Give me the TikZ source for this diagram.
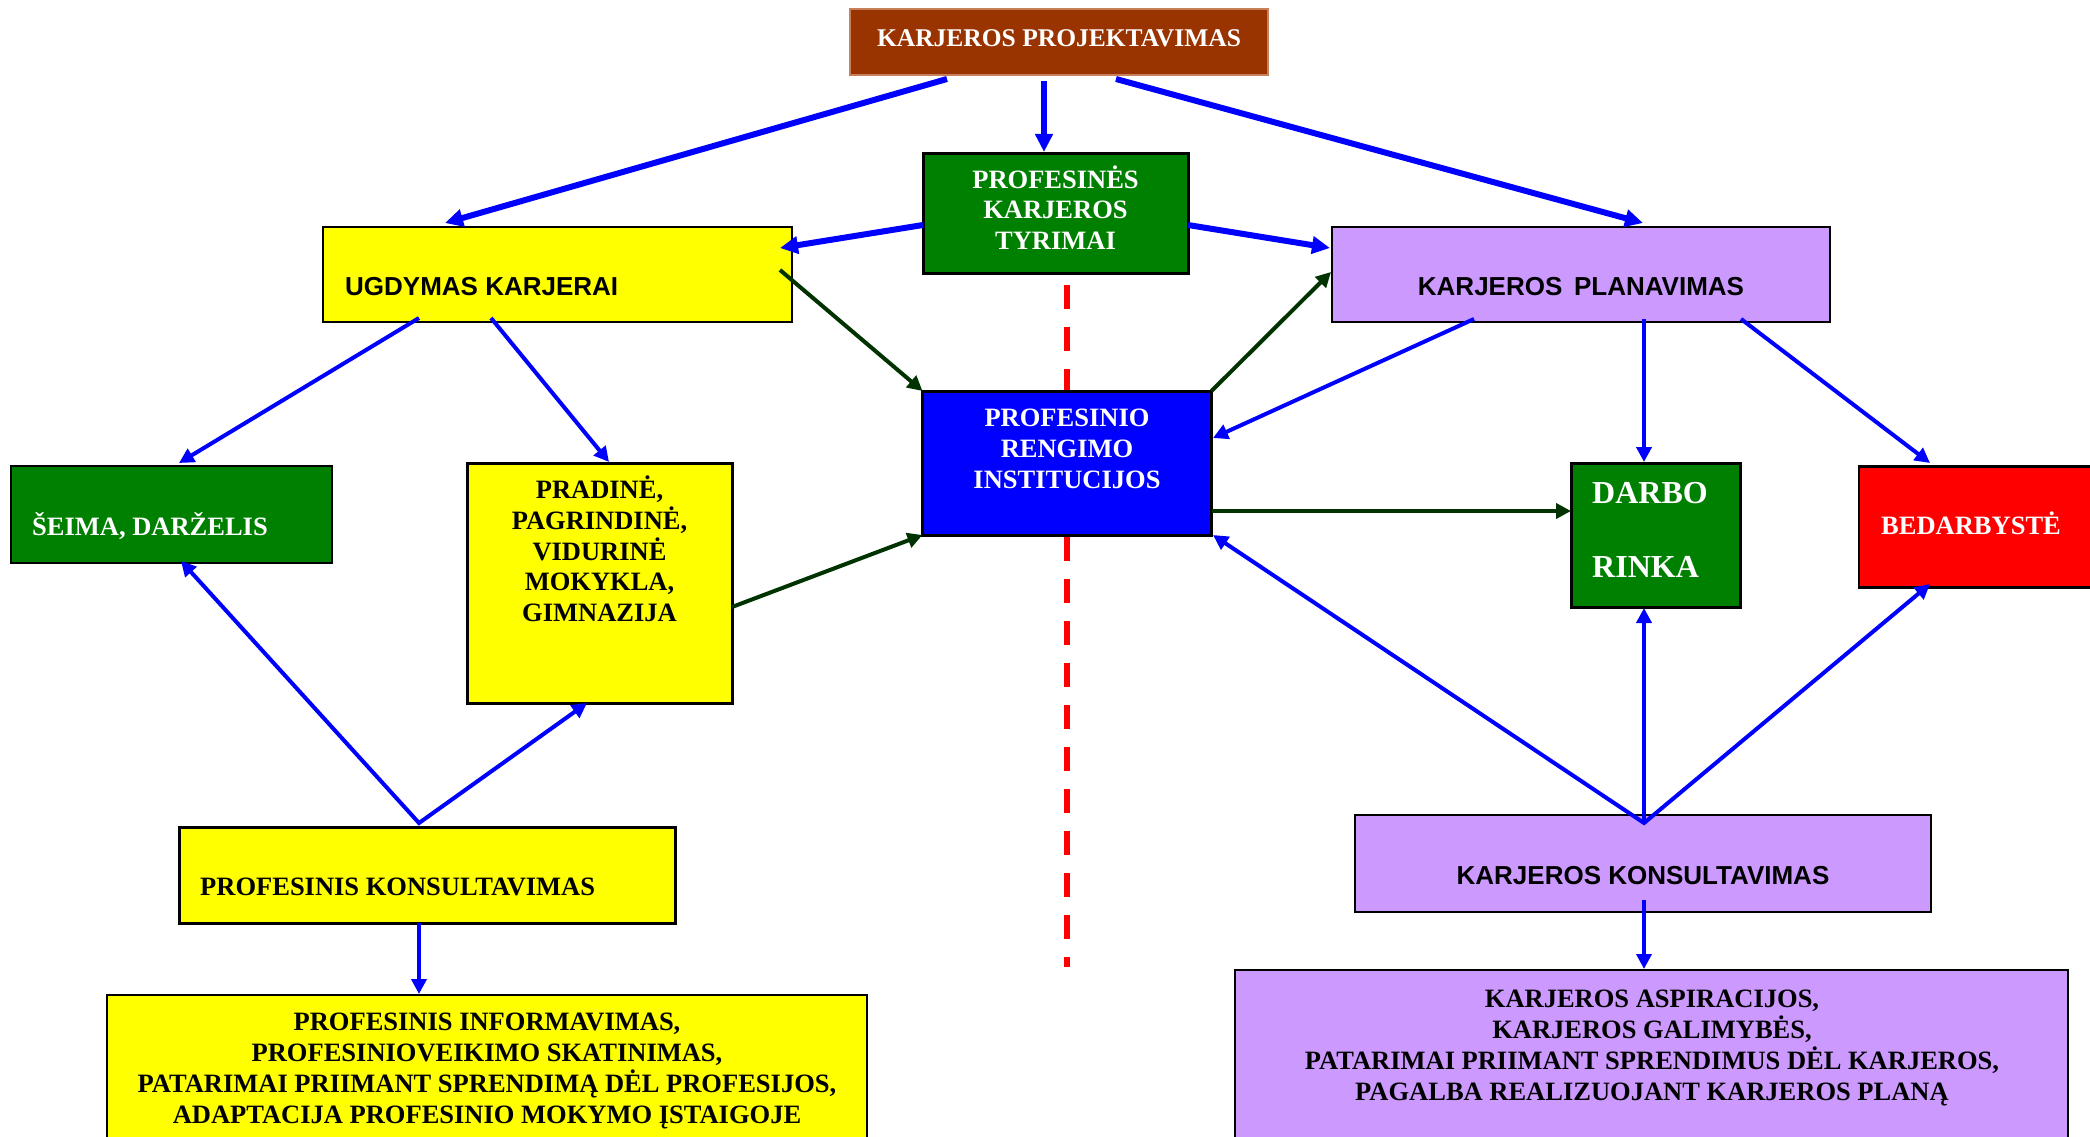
\documentclass[tikz,border=0pt]{standalone}
\usepackage{fontspec}
\setmainfont{Liberation Serif}
\setsansfont{Liberation Sans}
\usetikzlibrary{arrows.meta,backgrounds}
\definecolor{cbrown}{HTML}{993300}
\definecolor{cgreen}{HTML}{008000}
\definecolor{cyellow}{HTML}{FFFF00}
\definecolor{clilac}{HTML}{CC99FF}
\definecolor{cblue}{HTML}{0000FF}
\definecolor{cred}{HTML}{FF0000}
\definecolor{cdkgreen}{HTML}{003300}
\definecolor{cprojborder}{HTML}{C8805A}
\begin{document}
\begin{tikzpicture}[x=1pt,y=-1pt,
  box/.style={draw=black, line width=2.5pt, inner sep=0pt, outer sep=0pt},
  sertxt/.style={font=\bfseries\fontsize{26.5}{31}\selectfont, inner sep=0pt, anchor=base},
  santxt/.style={font=\sffamily\bfseries\fontsize{26}{31}\selectfont, inner sep=0pt, anchor=base},
  thickarr/.style={draw=cblue, line width=6pt, -{Triangle[length=18pt,width=17pt]}},
  bluearr/.style={draw=cblue, line width=4pt, -{Triangle[length=15pt,width=15pt]}},
  bluev/.style={draw=cblue, line width=4pt, {Triangle[length=15pt,width=15pt]}-{Triangle[length=15pt,width=15pt]}},
  greenarr/.style={draw=cdkgreen, line width=4pt, -{Triangle[length=15pt,width=15pt]}},
]
\useasboundingbox (0,0) rectangle (2090,1137);

% boxes
\node[box, fill=cbrown, draw=cprojborder, line width=1.5pt, minimum width=418pt, minimum height=66pt] (proj) at (1059,42) {};
\node[box, fill=cgreen, line width=3pt, minimum width=265pt, minimum height=120pt] (tyr) at (1055.5,213) {};
\node[box, fill=cyellow, minimum width=469pt, minimum height=95pt] (ugd) at (557.5,274.5) {};
\node[box, fill=clilac, minimum width=498pt, minimum height=95pt] (plan) at (1581,274.5) {};
\node[box, fill=cgreen, minimum width=321pt, minimum height=97pt] (seima) at (171.5,514.5) {};
\node[box, fill=cyellow, line width=3pt, minimum width=265pt, minimum height=240pt] (prad) at (599.5,583) {};
\node[box, fill=cblue, line width=3pt, minimum width=289pt, minimum height=144pt] (prof) at (1067,463) {};
\node[box, fill=cgreen, line width=3pt, minimum width=169pt, minimum height=144pt] (darbo) at (1655.5,535) {};
\node[box, fill=cred, minimum width=238pt, minimum height=121pt] (bed) at (1978,527) {};
\node[box, fill=cyellow, line width=3pt, minimum width=496pt, minimum height=96pt] (pk) at (427,875) {};
\node[box, fill=cyellow, minimum width=760pt, minimum height=150pt] (bl) at (487,1070) {};
\node[box, fill=clilac, minimum width=576pt, minimum height=97pt] (kk) at (1643,863.5) {};
\node[box, fill=clilac, minimum width=833pt, minimum height=180pt] (br) at (1651.5,1060) {};

% texts
\node[sertxt, text=white, font=\bfseries\fontsize{25.5}{31}\selectfont] (projt) at (1059,47) {KARJEROS PROJEKTAVIMAS};
\node[sertxt, text=white] (tyr1) at (1055.5,188) {PROFESINĖS};
\node[sertxt, text=white] (tyr2) at (1055.5,218.5) {KARJEROS};
\node[sertxt, text=white] (tyr3) at (1055.5,249) {TYRIMAI};
\node[santxt, anchor=base west] (ugdt) at (345,295) {UGDYMAS KARJERAI};
\node[santxt] (plant) at (1581,295) {KARJEROS\hspace{0.45em}PLANAVIMAS};
\node[sertxt, text=white, anchor=base west] (seimat) at (32,535) {ŠEIMA, DARŽELIS};
\node[sertxt] (prad1) at (599.5,498) {PRADINĖ,};
\node[sertxt] (prad2) at (599.5,529) {PAGRINDINĖ,};
\node[sertxt] (prad3) at (599.5,560) {VIDURINĖ};
\node[sertxt] (prad4) at (599.5,590) {MOKYKLA,};
\node[sertxt] (prad5) at (599.5,621) {GIMNAZIJA};
\node[sertxt, text=white] (prof1) at (1067,426) {PROFESINIO};
\node[sertxt, text=white] (prof2) at (1067,457) {RENGIMO};
\node[sertxt, text=white] (prof3) at (1067,488) {INSTITUCIJOS};
\node[sertxt, text=white, anchor=base west, font=\bfseries\fontsize{32}{36}\selectfont] (darbo1) at (1592,503) {DARBO};
\node[sertxt, text=white, anchor=base west, font=\bfseries\fontsize{32}{36}\selectfont] (darbo2) at (1592,577) {RINKA};
\node[sertxt, text=white, anchor=base west] (bedt) at (1881,534) {BEDARBYSTĖ};
\node[sertxt, anchor=base west] (pkt) at (200,895) {PROFESINIS KONSULTAVIMAS};
\node[sertxt] (bl1) at (487,1030) {PROFESINIS INFORMAVIMAS,};
\node[sertxt] (bl2) at (487,1061) {PROFESINIOVEIKIMO SKATINIMAS,};
\node[sertxt] (bl3) at (487,1092) {PATARIMAI PRIIMANT SPRENDIMĄ DĖL PROFESIJOS,};
\node[sertxt] (bl4) at (487,1123) {ADAPTACIJA PROFESINIO MOKYMO ĮSTAIGOJE};
\node[santxt] (kkt) at (1643,884) {KARJEROS KONSULTAVIMAS};
\node[sertxt] (br1) at (1652,1007) {KARJEROS ASPIRACIJOS,};
\node[sertxt] (br2) at (1652,1038) {KARJEROS GALIMYBĖS,};
\node[sertxt] (br3) at (1652,1069) {PATARIMAI PRIIMANT SPRENDIMUS DĖL KARJEROS,};
\node[sertxt] (br4) at (1652,1100) {PAGALBA REALIZUOJANT KARJEROS PLANĄ};

% background: white and red dashed divider
\coordinate (dashend) at (1067,967);
\begin{pgfonlayer}{background}
  \fill[white] (0,0) rectangle (2090,1137);
  \draw[cred, line width=6pt, dash pattern=on 24pt off 18pt] ([shift={(11.5,12)}]tyr.south) -- (dashend);
\end{pgfonlayer}

% connectors
\draw[thickarr] ([shift={(97,4)}]proj.south west) -- ([shift={(122,-4)}]ugd.north west);
\draw[thickarr] ([shift={(-15,6)}]proj.south) -- ([shift={(-11.5,-1)}]tyr.north);
\draw[thickarr] ([shift={(-152,4)}]proj.south east) -- ([shift={(311,-4)}]plan.north west);
\draw[thickarr] ([shift={(0,12)}]tyr.west) -- ([shift={(-12,21)}]ugd.north east);
\draw[thickarr] ([shift={(0,12)}]tyr.east) -- ([shift={(-2,21)}]plan.north west);

\draw[greenarr] ([shift={(-12,43)}]ugd.north east) -- (prof.north west);
\draw[greenarr] (prof.north east) -- ([shift={(-1,45)}]plan.north west);
\draw[bluearr] ([shift={(142,-3)}]plan.south west) -- ([shift={(1.5,-25)}]prof.east);
\draw[bluearr] ([shift={(312,-3)}]plan.south west) -- ([shift={(-11.5,-1)}]darbo.north);
\draw[bluearr] ([shift={(409,-3)}]plan.south west) -- ([shift={(71,-3.5)}]bed.north west);
\draw[bluearr] ([shift={(96,-4)}]ugd.south west) -- ([shift={(168,-3)}]seima.north west);
\draw[bluearr] ([shift={(168,-4)}]ugd.south west) -- ([shift={(142,-1)}]prad.north west);
\draw[greenarr] ([shift={(0,24)}]prad.east) -- (prof.south west);
\draw[greenarr] ([shift={(0,48)}]prof.east) -- ([shift={(0,-24)}]darbo.west);

\coordinate (pkv) at ([shift={(-8,-4)}]pk.north);
\draw[bluev] ([shift={(170,-2)}]seima.south west) -- (pkv) -- ([shift={(120,0)}]prad.south west);
\draw[bluearr] ([shift={(-8,0)}]pk.south) -- ([shift={(-68,-1)}]bl.north);

\coordinate (kkv) at ([shift={(1,8)}]kk.north);
\draw[bluev] ([shift={(1.5,0)}]prof.south east) -- (kkv) -- ([shift={(71,-3.5)}]bed.south west);
\draw[bluearr] (kkv) -- ([shift={(-11.5,1)}]darbo.south);
\draw[bluearr] ([shift={(1,-12)}]kk.south) -- ([shift={(-7.5,-1)}]br.north);
\end{tikzpicture}
\end{document}
